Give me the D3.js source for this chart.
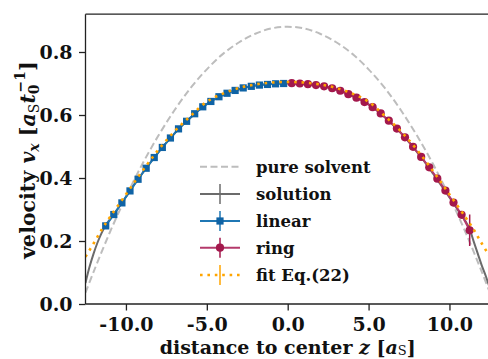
<!DOCTYPE html>
<html>
<head>
<meta charset="utf-8">
<script src="https://cdn.jsdelivr.net/npm/d3@7"></script>
<style>
  html, body { margin: 0; padding: 0; background: #fff; }
  svg { display: block; }
  text { font-family: "DejaVu Serif", serif; font-weight: bold; fill: #111; }
  .math { font-style: italic; }
</style>
</head>
<body>
<svg id="chart" width="488" height="359"></svg>
<script>
// Velocity profile across the channel: positions z and velocities v_x

const xTicks = [-10, -5, 0, 5, 10];
const yTicks = [0.0, 0.2, 0.4, 0.6, 0.8];

// pure solvent profile
const solventZ = [-12.5, -12, -11, -10, -9, -8, -7, -6, -5, -4, -3, -2, -1, 0,
                  1, 2, 3, 4, 5, 6, 7, 8, 9, 10, 11, 12, 12.5];
const solventV = [0.036, 0.102, 0.227, 0.340, 0.443, 0.534, 0.615, 0.686, 0.745, 0.794, 0.831, 0.858, 0.875, 0.880,
                  0.875, 0.858, 0.831, 0.794, 0.745, 0.686, 0.615, 0.534, 0.443, 0.340, 0.227, 0.102, 0.036];

// solution profile
const solutionZ = [-12.5, -12.25, -12, -11.75, -11.5, -11.25, -11, -10.5, -10, -9.5, -9, -8.5, -8, -7.5, -7,
                   -6.5, -6, -5.5, -5, -4.5, -4, -3.5, -3, -2.5, -2, -1.5, -1, -0.5, 0,
                   0.5, 1, 1.5, 2, 2.5, 3, 3.5, 4, 4.5, 5, 5.5, 6, 6.5, 7, 7.5, 8, 8.5, 9, 9.5,
                   10, 10.5, 11, 11.25, 11.5, 11.75, 12, 12.25, 12.5];
const solutionV = [0.067, 0.118, 0.160, 0.196, 0.226, 0.250, 0.268, 0.303, 0.340, 0.378, 0.414, 0.448, 0.481, 0.512, 0.541,
                   0.568, 0.592, 0.615, 0.635, 0.651, 0.664, 0.674, 0.682, 0.689, 0.694, 0.697, 0.699, 0.700, 0.700,
                   0.700, 0.699, 0.697, 0.693, 0.688, 0.681, 0.673, 0.663, 0.650, 0.634, 0.615, 0.593, 0.569, 0.543, 0.514, 0.482, 0.449, 0.413, 0.376,
                   0.338, 0.300, 0.262, 0.238, 0.198, 0.160, 0.122, 0.088, 0.050];

// linear model
const linearZ = [-11.25, -10.75, -10.25, -9.75, -9.25, -8.75, -8.25, -7.75, -7.25, -6.75, -6.25, -5.75,
                 -5.25, -4.75, -4.25, -3.75, -3.25, -2.75, -2.25, -1.75, -1.25, -0.75, -0.25];
const linearV = [0.248, 0.284, 0.321, 0.359, 0.396, 0.431, 0.465, 0.497, 0.527, 0.556, 0.580, 0.604,
                 0.626, 0.643, 0.658, 0.669, 0.678, 0.686, 0.691, 0.695, 0.697, 0.699, 0.700];
const linearErr = [0.006, 0.004, 0.004, 0.004, 0.003, 0.003, 0.003, 0.003, 0.003, 0.003, 0.003, 0.003,
                   0.003, 0.003, 0.003, 0.003, 0.003, 0.003, 0.003, 0.003, 0.003, 0.003, 0.003];

// ring model
const ringZ = [0.25, 0.75, 1.25, 1.75, 2.25, 2.75, 3.25, 3.75, 4.25, 4.75, 5.25, 5.75,
               6.25, 6.75, 7.25, 7.75, 8.25, 8.75, 9.25, 9.75, 10.25, 10.75, 11.25];
const ringV = [0.701, 0.700, 0.698, 0.695, 0.691, 0.685, 0.677, 0.666, 0.655, 0.641, 0.625, 0.605,
               0.582, 0.557, 0.529, 0.499, 0.467, 0.434, 0.398, 0.360, 0.322, 0.283, 0.234];
const ringErr = [0.003, 0.003, 0.003, 0.003, 0.003, 0.003, 0.003, 0.003, 0.003, 0.003, 0.003, 0.003,
                 0.003, 0.003, 0.003, 0.003, 0.003, 0.004, 0.004, 0.005, 0.006, 0.008, 0.050];

// fit Eq.(22)
const fitZ = [-12.5, -12, -11.5, -11, -10, -9, -8, -7, -6, -5, -4, -3, -2, -1, 0,
              1, 2, 3, 4, 5, 6, 7, 8, 9, 10, 11, 11.5, 12, 12.5];
const fitV = [0.150, 0.192, 0.236, 0.275, 0.348, 0.421, 0.489, 0.548, 0.597, 0.642, 0.668, 0.686, 0.697, 0.703, 0.705,
              0.703, 0.697, 0.686, 0.668, 0.642, 0.597, 0.548, 0.489, 0.421, 0.348, 0.275, 0.236, 0.192, 0.150];

const legendLabels = ["pure solvent", "solution", "linear", "ring", "fit Eq.(22)"];

const colors = {
  solvent: "#bdbdbd",
  solution: "#6b6b6b",
  linearLine: "#1f77b4",
  linearMark: "#0f63a5",
  ringLine: "#b43a6b",
  ringMark: "#a3184c",
  fit: "#ffa500"
};

const svg = d3.select("#chart");
const plot = { left: 85.5, right: 489.9, top: 14.2, bottom: 304 };

const x = d3.scaleLinear().domain([-12.5, 12.5]).range([plot.left, plot.right]);
const y = d3.scaleLinear().domain([0, 0.92]).range([plot.bottom, plot.top]);

svg.append("defs").append("clipPath").attr("id", "plotClip")
  .append("rect")
  .attr("x", plot.left).attr("y", plot.top)
  .attr("width", plot.right - plot.left).attr("height", plot.bottom - plot.top);

const zip = (zs, vs) => zs.map((z, i) => [z, vs[i]]);
const line = d3.line().x(d => x(d[0])).y(d => y(d[1])).curve(d3.curveCatmullRom.alpha(0.5));
const straight = d3.line().x(d => x(d[0])).y(d => y(d[1]));

const g = svg.append("g").attr("clip-path", "url(#plotClip)");

// pure solvent
g.append("path").datum(zip(solventZ, solventV))
  .attr("d", line).attr("fill", "none")
  .attr("stroke", colors.solvent).attr("stroke-width", 2)
  .attr("stroke-dasharray", "7,3.5");

// solution
g.append("path").datum(zip(solutionZ, solutionV))
  .attr("d", line).attr("fill", "none")
  .attr("stroke", colors.solution).attr("stroke-width", 2);

// linear: line, error bars, square markers
g.append("path").datum(zip(linearZ, linearV))
  .attr("d", straight).attr("fill", "none")
  .attr("stroke", colors.linearLine).attr("stroke-width", 2);
g.selectAll(".lerr").data(zip(linearZ, linearV)).join("line")
  .attr("x1", d => x(d[0])).attr("x2", d => x(d[0]))
  .attr("y1", (d, i) => y(d[1] - linearErr[i])).attr("y2", (d, i) => y(d[1] + linearErr[i]))
  .attr("stroke", colors.linearLine).attr("stroke-width", 1.5);
g.selectAll(".lmark").data(zip(linearZ, linearV)).join("rect")
  .attr("x", d => x(d[0]) - 3.6).attr("y", d => y(d[1]) - 3.6)
  .attr("width", 7.2).attr("height", 7.2)
  .attr("fill", colors.linearMark);

// ring: line, error bars, circle markers
g.append("path").datum(zip(ringZ, ringV))
  .attr("d", straight).attr("fill", "none")
  .attr("stroke", colors.ringLine).attr("stroke-width", 2);
g.selectAll(".rerr").data(zip(ringZ, ringV)).join("line")
  .attr("x1", d => x(d[0])).attr("x2", d => x(d[0]))
  .attr("y1", (d, i) => y(d[1] - ringErr[i])).attr("y2", (d, i) => y(d[1] + ringErr[i]))
  .attr("stroke", colors.ringMark).attr("stroke-width", 1.5);
g.selectAll(".rmark").data(zip(ringZ, ringV)).join("circle")
  .attr("cx", d => x(d[0])).attr("cy", d => y(d[1])).attr("r", 4.1)
  .attr("fill", colors.ringMark);

// fit Eq.(22)
g.append("path").datum(zip(fitZ, fitV))
  .attr("d", line).attr("fill", "none")
  .attr("stroke", colors.fit).attr("stroke-width", 2.6)
  .attr("stroke-dasharray", "2.6,4.8");

// axes
const fmt = d3.format(".1f");
const tickFmt = d => fmt(d).replace("\u2212", "-");

const xAxis = svg.append("g").attr("transform", `translate(0,${plot.bottom})`)
  .call(d3.axisBottom(x).tickValues(xTicks).tickFormat(tickFmt).tickSize(6.5).tickSizeOuter(0));
const yAxis = svg.append("g").attr("transform", `translate(${plot.left},0)`)
  .call(d3.axisLeft(y).tickValues(yTicks).tickFormat(tickFmt).tickSize(6.5).tickSizeOuter(0));

[xAxis, yAxis].forEach(ax => {
  ax.select(".domain").remove();
  ax.selectAll(".tick line").attr("stroke", "#222").attr("stroke-width", 1.3);
  ax.selectAll(".tick text")
    .attr("fill", "#111")
    .style("font-family", "'DejaVu Serif', serif")
    .style("font-weight", "bold")
    .style("font-size", "19px");
});
xAxis.selectAll(".tick text").attr("dy", null).attr("y", 27);
yAxis.selectAll(".tick text").attr("x", -13).attr("dy", "0.36em");

// frame (left, bottom, top)
svg.append("line").attr("x1", plot.left).attr("x2", plot.left).attr("y1", plot.top).attr("y2", plot.bottom)
  .attr("stroke", "#222").attr("stroke-width", 1.3);
svg.append("line").attr("x1", plot.left).attr("x2", plot.right).attr("y1", plot.bottom).attr("y2", plot.bottom)
  .attr("stroke", "#222").attr("stroke-width", 1.3);
svg.append("line").attr("x1", plot.left).attr("x2", plot.right).attr("y1", plot.top).attr("y2", plot.top)
  .attr("stroke", "#222").attr("stroke-width", 1.3);

// axis labels
const xl = svg.append("text").attr("x", 287.7).attr("y", 353.5).attr("text-anchor", "middle")
  .style("font-size", "19px");
xl.append("tspan").text("distance to center ");
xl.append("tspan").attr("class", "math").text("z");
xl.append("tspan").text(" [");
xl.append("tspan").attr("class", "math").text("a");
xl.append("tspan").attr("dy", 1.5).style("font-size", "13px").style("font-weight", "normal").text("S");
xl.append("tspan").attr("dy", -1.5).text("]");

const yl = svg.append("text")
  .attr("transform", "translate(35,160) rotate(-90)")
  .attr("text-anchor", "middle").style("font-size", "20.5px");
yl.append("tspan").text("velocity ");
yl.append("tspan").attr("class", "math").text("v");
yl.append("tspan").attr("class", "math").attr("dy", 4).style("font-size", "14px").text("x");
yl.append("tspan").attr("dy", -4).text(" [");
yl.append("tspan").attr("class", "math").text("a");
yl.append("tspan").attr("dy", 4).style("font-size", "14px").style("font-weight", "normal").text("S");
yl.append("tspan").attr("dy", -4).attr("class", "math").text("t");
yl.append("tspan").attr("dy", 4).style("font-size", "14px").text("0");
yl.append("tspan").attr("dx", -8).attr("dy", -14).style("font-size", "14px").text("\u22121");
yl.append("tspan").attr("dy", 10).text("]");

// legend
const legend = svg.append("g");
const rowY = [166.7, 194, 221, 247.7, 275];
const hx0 = 200, hx1 = 240, hxm = 220;

legend.append("line").attr("x1", hx0).attr("x2", hx1).attr("y1", rowY[0]).attr("y2", rowY[0])
  .attr("stroke", colors.solvent).attr("stroke-width", 2).attr("stroke-dasharray", "7,3.5");

legend.append("line").attr("x1", hx0).attr("x2", hx1).attr("y1", rowY[1]).attr("y2", rowY[1])
  .attr("stroke", colors.solution).attr("stroke-width", 2);
legend.append("line").attr("x1", hxm).attr("x2", hxm).attr("y1", rowY[1] - 10).attr("y2", rowY[1] + 10)
  .attr("stroke", colors.solution).attr("stroke-width", 1.5);

legend.append("line").attr("x1", hx0).attr("x2", hx1).attr("y1", rowY[2]).attr("y2", rowY[2])
  .attr("stroke", colors.linearLine).attr("stroke-width", 2);
legend.append("line").attr("x1", hxm).attr("x2", hxm).attr("y1", rowY[2] - 10).attr("y2", rowY[2] + 10)
  .attr("stroke", colors.linearLine).attr("stroke-width", 1.5);
legend.append("rect").attr("x", hxm - 3.6).attr("y", rowY[2] - 3.6).attr("width", 7.2).attr("height", 7.2)
  .attr("fill", colors.linearMark);

legend.append("line").attr("x1", hx0).attr("x2", hx1).attr("y1", rowY[3]).attr("y2", rowY[3])
  .attr("stroke", colors.ringLine).attr("stroke-width", 2);
legend.append("line").attr("x1", hxm).attr("x2", hxm).attr("y1", rowY[3] - 10).attr("y2", rowY[3] + 10)
  .attr("stroke", colors.ringMark).attr("stroke-width", 1.5);
legend.append("circle").attr("cx", hxm).attr("cy", rowY[3]).attr("r", 4.1).attr("fill", colors.ringMark);

legend.append("line").attr("x1", hx0).attr("x2", hx1).attr("y1", rowY[4]).attr("y2", rowY[4])
  .attr("stroke", colors.fit).attr("stroke-width", 2.4).attr("stroke-dasharray", "2.6,4.8");
legend.append("line").attr("x1", hxm).attr("x2", hxm).attr("y1", rowY[4] - 10).attr("y2", rowY[4] + 10)
  .attr("stroke", colors.fit).attr("stroke-width", 1.5);

legend.selectAll(".lt").data(legendLabels).join("text")
  .attr("x", 256).attr("y", (d, i) => rowY[i] + 6)
  .style("font-size", "16.5px")
  .text(d => d);
</script>
</body>
</html>
